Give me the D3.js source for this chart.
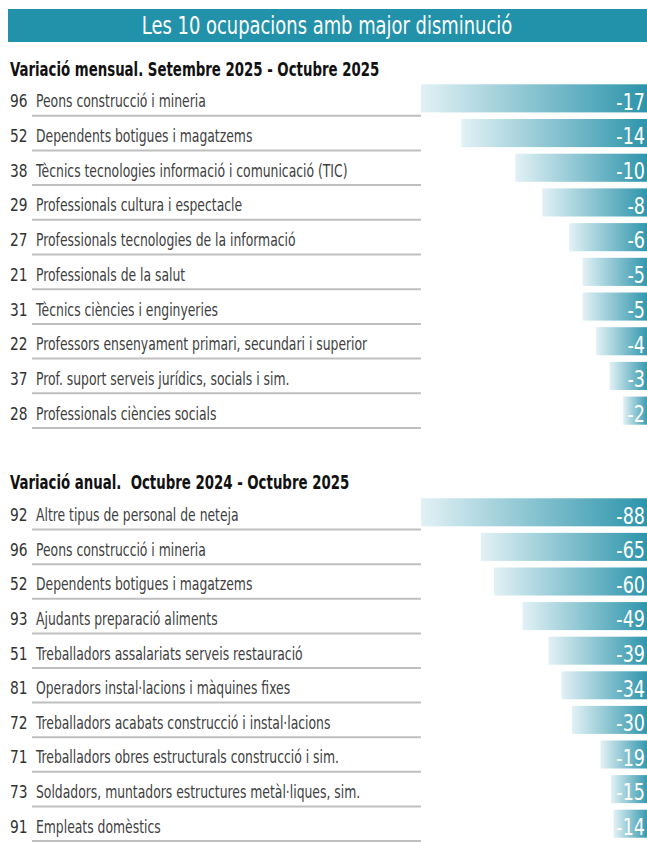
<!DOCTYPE html>
<html>
<head>
<meta charset="utf-8">
<script src="https://cdn.jsdelivr.net/npm/d3@7"></script>
<style>
  body { margin: 0; background: #fff; }
  svg { display: block; }
  text { font-family: "Liberation Sans Narrow", "DejaVu Sans Condensed", "Roboto Condensed", sans-serif; }
</style>
</head>
<body>
<svg id="chart" width="647" height="844"></svg>
<script>
// Data
const title = 'Les 10 ocupacions amb major disminució';

const monthlyTitle = 'Variació mensual. Setembre 2025 - Octubre 2025';
const monthlyCodes = ['96', '52', '38', '29', '27', '21', '31', '22', '37', '28'];
const monthlyLabels = [
    'Peons construcció i mineria',
    'Dependents botigues i magatzems',
    'Tècnics tecnologies informació i comunicació (TIC)',
    'Professionals cultura i espectacle',
    'Professionals tecnologies de la informació',
    'Professionals de la salut',
    'Tècnics ciències i enginyeries',
    'Professors ensenyament primari, secundari i superior',
    'Prof. suport serveis jurídics, socials i sim.',
    'Professionals ciències socials'
];
const monthlyValues = [-17, -14, -10, -8, -6, -5, -5, -4, -3, -2];

const annualTitle = 'Variació anual.  Octubre 2024 - Octubre 2025';
const annualCodes = ['92', '96', '52', '93', '51', '81', '72', '71', '73', '91'];
const annualLabels = [
    'Altre tipus de personal de neteja',
    'Peons construcció i mineria',
    'Dependents botigues i magatzems',
    'Ajudants preparació aliments',
    'Treballadors assalariats serveis restauració',
    'Operadors instal·lacions i màquines fixes',
    'Treballadors acabats construcció i instal·lacions',
    'Treballadors obres estructurals construcció i sim.',
    'Soldadors, muntadors estructures metàl·liques, sim.',
    'Empleats domèstics'
];
const annualValues = [-88, -65, -60, -49, -39, -34, -30, -19, -15, -14];

const svg = d3.select('#chart');

// squeeze text horizontally, the source font is much narrower than what we have
function place(x, y, sx) {
    return `translate(${x},${y}) scale(${sx},1)`;
}

// Gradient used by every bar (light on the left, teal on the right)
const grad = svg.append('defs').append('linearGradient')
    .attr('id', 'barGrad')
    .attr('x1', '0%').attr('x2', '100%')
    .attr('y1', '0%').attr('y2', '0%');
grad.append('stop').attr('offset', '0%').attr('stop-color', '#e2f1f5');
grad.append('stop').attr('offset', '100%').attr('stop-color', '#2a93aa');

// Title bar
svg.append('rect')
    .attr('x', 8).attr('y', 9)
    .attr('width', 639).attr('height', 33)
    .attr('fill', '#2292ab');
svg.append('text')
    .attr('transform', place(327, 34, 0.83))
    .attr('text-anchor', 'middle')
    .attr('fill', '#fff')
    .attr('font-size', 24)
    .text(title);

drawSection(monthlyTitle, monthlyCodes, monthlyLabels, monthlyValues, 76, [81, 428]);
drawSection(annualTitle, annualCodes, annualLabels, annualValues, 489, [495, 841]);

function drawSection(heading, codes, labels, values, headY, yRange) {
    const g = svg.append('g');

    g.append('text')
        .attr('transform', place(10, headY, 0.78))
        .attr('font-size', 19)
        .attr('font-weight', 'bold')
        .attr('fill', '#111')
        .style('white-space', 'pre')
        .text(heading);

    const rows = codes.map((c, i) => ({ code: c, label: labels[i], value: values[i] }));

    const y = d3.scaleBand()
        .domain(d3.range(rows.length))
        .range(yRange)
        .paddingInner(0.19)
        .paddingOuter(0.095);

    // bars hang from the right edge, zero at x=650 (clipped by the page)
    const x = d3.scaleLinear()
        .domain([0, d3.max(rows, d => -d.value)])
        .range([650, 421]);

    const gap = y.step() - y.bandwidth();
    // text sits a little below the bar centre in the original
    const mid = i => y(i) + y.bandwidth() / 2 + 3;

    const row = g.selectAll('g.row')
        .data(rows)
        .join('g')
        .attr('class', 'row');

    row.append('line')
        .attr('x1', 32).attr('x2', 421)
        .attr('y1', (d, i) => y(i) + y.bandwidth() + gap / 2)
        .attr('y2', (d, i) => y(i) + y.bandwidth() + gap / 2)
        .attr('stroke', '#bfbfbf')
        .attr('stroke-width', 2);

    row.append('text')
        .attr('transform', (d, i) => place(10, mid(i), 0.9))
        .attr('dy', '0.35em')
        .attr('font-size', 17)
        .attr('fill', '#333')
        .text(d => d.code);

    row.append('text')
        .attr('transform', (d, i) => place(36, mid(i), 0.81))
        .attr('dy', '0.35em')
        .attr('font-size', 17)
        .attr('fill', '#404040')
        .text(d => d.label);

    row.append('rect')
        .attr('x', d => x(-d.value))
        .attr('y', (d, i) => y(i))
        .attr('width', d => x(0) - x(-d.value))
        .attr('height', y.bandwidth())
        .attr('fill', 'url(#barGrad)');

    row.append('text')
        .attr('transform', (d, i) => place(645, mid(i), 0.85))
        .attr('dy', '0.36em')
        .attr('text-anchor', 'end')
        .attr('font-size', 23)
        .attr('fill', '#fff')
        .text(d => d.value);
}
</script>
</body>
</html>
